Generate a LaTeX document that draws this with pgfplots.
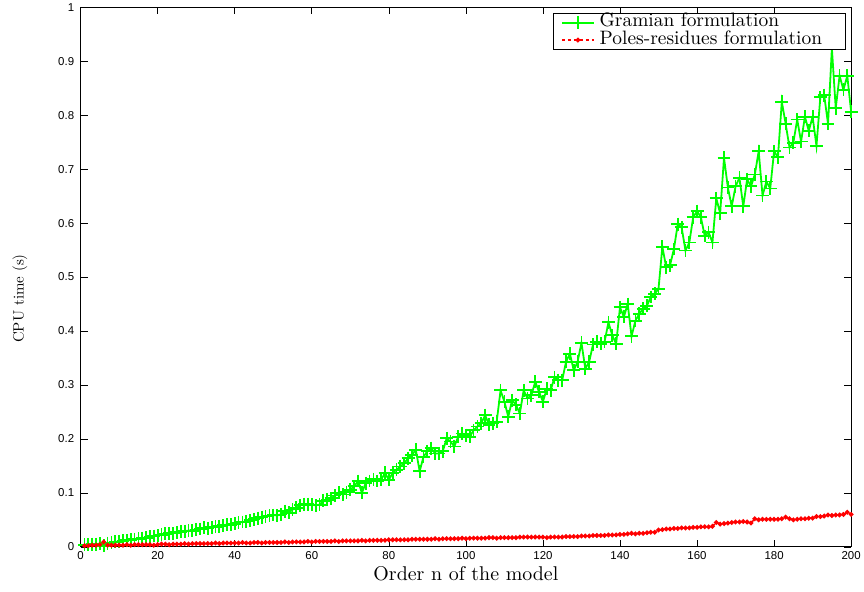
\documentclass[border=0pt]{standalone}
\usepackage{fontspec}
\setmainfont{lmroman10-regular.otf}
\usepackage{pgfplots}
\pgfplotsset{compat=1.18}
\newfontfamily\ticksans{Liberation Sans}

\definecolor{gramgreen}{RGB}{0,255,0}
\definecolor{polered}{RGB}{255,0,0}

\pgfplotstableread{
n t
1 0.004
2 0.004
3 0.005
4 0.005
5 0.006
6 0.002
7 0.007
8 0.008
9 0.009
10 0.010
11 0.011
12 0.012
13 0.013
14 0.014
15 0.015
16 0.016
17 0.017
18 0.019
19 0.020
20 0.021
21 0.022
22 0.024
23 0.025
24 0.025
25 0.027
26 0.028
27 0.029
28 0.030
29 0.030
30 0.032
31 0.033
32 0.035
33 0.034
34 0.036
35 0.037
36 0.038
37 0.040
38 0.041
39 0.041
40 0.043
41 0.045
42 0.046
43 0.047
44 0.049
45 0.051
46 0.053
47 0.055
48 0.056
49 0.058
50 0.059
51 0.058
52 0.060
53 0.066
54 0.063
55 0.069
56 0.072
57 0.077
58 0.079
59 0.079
60 0.078
61 0.077
62 0.078
63 0.085
64 0.087
65 0.090
66 0.095
67 0.100
68 0.097
69 0.101
70 0.106
71 0.112
72 0.122
73 0.100
74 0.118
75 0.122
76 0.125
77 0.122
78 0.124
79 0.137
80 0.124
81 0.137
82 0.143
83 0.149
84 0.155
85 0.164
86 0.170
87 0.180
88 0.140
89 0.167
90 0.177
91 0.183
92 0.173
93 0.173
94 0.177
95 0.201
96 0.195
97 0.186
98 0.204
99 0.210
100 0.207
101 0.204
102 0.216
103 0.223
104 0.229
105 0.244
106 0.226
107 0.229
108 0.232
109 0.290
110 0.269
111 0.241
112 0.272
113 0.263
114 0.247
115 0.290
116 0.275
117 0.281
118 0.306
119 0.287
120 0.269
121 0.293
122 0.290
123 0.314
124 0.309
125 0.309
126 0.343
127 0.358
128 0.327
129 0.343
130 0.378
131 0.330
132 0.343
133 0.375
134 0.380
135 0.376
136 0.380
137 0.416
138 0.392
139 0.376
140 0.444
141 0.426
142 0.450
143 0.390
144 0.419
145 0.432
146 0.441
147 0.447
148 0.463
149 0.469
150 0.478
151 0.556
152 0.518
153 0.522
154 0.552
155 0.598
156 0.592
157 0.549
158 0.564
159 0.611
160 0.622
161 0.611
162 0.576
163 0.583
164 0.564
165 0.646
166 0.618
167 0.721
168 0.666
169 0.631
170 0.668
171 0.684
172 0.631
173 0.681
174 0.668
175 0.690
176 0.733
177 0.651
178 0.677
179 0.664
180 0.733
181 0.722
182 0.825
183 0.784
184 0.740
185 0.749
186 0.792
187 0.751
188 0.797
189 0.771
190 0.797
191 0.743
192 0.833
193 0.837
194 0.784
195 0.924
196 0.813
197 0.873
198 0.847
199 0.873
200 0.806
}\gramian

\pgfplotstableread{
n t
1 0.002
2 0.002
3 0.003
4 0.003
5 0.004
6 0.009
7 0.003
8 0.003
9 0.003
10 0.003
11 0.003
12 0.004
13 0.003
14 0.004
15 0.004
16 0.004
17 0.004
18 0.004
19 0.003
20 0.004
21 0.005
22 0.005
23 0.004
24 0.005
25 0.005
26 0.005
27 0.006
28 0.005
29 0.006
30 0.006
31 0.006
32 0.006
33 0.006
34 0.006
35 0.007
36 0.006
37 0.007
38 0.007
39 0.007
40 0.007
41 0.007
42 0.008
43 0.007
44 0.007
45 0.008
46 0.008
47 0.007
48 0.008
49 0.008
50 0.008
51 0.008
52 0.008
53 0.009
54 0.008
55 0.009
56 0.009
57 0.009
58 0.009
59 0.010
60 0.009
61 0.010
62 0.010
63 0.010
64 0.010
65 0.010
66 0.011
67 0.010
68 0.011
69 0.011
70 0.011
71 0.011
72 0.011
73 0.012
74 0.011
75 0.012
76 0.012
77 0.012
78 0.012
79 0.012
80 0.013
81 0.013
82 0.013
83 0.013
84 0.013
85 0.013
86 0.014
87 0.014
88 0.014
89 0.014
90 0.014
91 0.014
92 0.015
93 0.014
94 0.015
95 0.015
96 0.015
97 0.015
98 0.015
99 0.016
100 0.015
101 0.016
102 0.016
103 0.016
104 0.016
105 0.016
106 0.017
107 0.017
108 0.016
109 0.017
110 0.017
111 0.017
112 0.017
113 0.017
114 0.018
115 0.018
116 0.018
117 0.018
118 0.018
119 0.018
120 0.018
121 0.017
122 0.018
123 0.018
124 0.018
125 0.018
126 0.019
127 0.019
128 0.019
129 0.019
130 0.020
131 0.020
132 0.020
133 0.021
134 0.021
135 0.021
136 0.021
137 0.022
138 0.022
139 0.022
140 0.023
141 0.023
142 0.024
143 0.025
144 0.024
145 0.025
146 0.025
147 0.026
148 0.027
149 0.027
150 0.031
151 0.032
152 0.033
153 0.033
154 0.034
155 0.034
156 0.035
157 0.035
158 0.035
159 0.036
160 0.036
161 0.037
162 0.037
163 0.037
164 0.038
165 0.045
166 0.042
167 0.043
168 0.044
169 0.045
170 0.046
171 0.046
172 0.047
173 0.046
174 0.044
175 0.052
176 0.050
177 0.051
178 0.051
179 0.051
180 0.051
181 0.051
182 0.052
183 0.055
184 0.052
185 0.050
186 0.051
187 0.052
188 0.052
189 0.053
190 0.053
191 0.056
192 0.056
193 0.057
194 0.059
195 0.058
196 0.059
197 0.059
198 0.060
199 0.064
200 0.060
}\polesres

\begin{document}
\begin{tikzpicture}
\begin{axis}[
  scale only axis,
  width=774pt, height=542pt,
  xmin=0, xmax=200, ymin=0, ymax=1,
  xtick={0,20,...,200},
  xticklabels={0,20,40,60,80,100,120,140,160,180,200},
  ytick={0,0.1,...,1},
  yticklabels={0,0.1,0.2,0.3,0.4,0.5,0.6,0.7,0.8,0.9,1},
  /pgf/number format/assume math mode=true,
  ticklabel style={font=\ticksans\fontsize{11.5}{12}\selectfont},
  xticklabel style={yshift=-1pt},
  yticklabel style={xshift=-3pt},
  major tick length=7pt,
  tick style={black, line width=0.6pt},
  axis line style={line width=0.8pt},
  xlabel={Order n of the model},
  ylabel={CPU time (s)},
  xlabel style={font=\fontsize{20}{20}\selectfont, at={(axis description cs:0.5,0)}, anchor=base, yshift=-34pt},
  ylabel style={font=\fontsize{15}{15}\selectfont, at={(axis description cs:-0.0788,0.46)}, anchor=center},
  legend cell align=left,
  legend image code/.code={%
    \draw[mark repeat=2,mark phase=2,#1] plot coordinates {(0pt,0pt) (16pt,0pt) (32pt,0pt)};},
  legend style={
    at={(1,1)}, anchor=north east, xshift=-6pt, yshift=-6pt,
    draw=black, inner xsep=8pt, inner ysep=0.5pt,
    font=\fontsize{19.5}{18}\selectfont,
    row sep=0pt, column sep=5pt,
    nodes={inner sep=0pt, text height=13pt, text depth=4.5pt},
  },
]

% Gramian-based reduction
\addplot[color=gramgreen, line width=1.8pt, mark=+, mark size=6.5pt,
         mark options={solid, line width=1.8pt}]
  table[x=n, y=t] {\gramian};
\addlegendentry{Gramian formulation\hspace*{15pt}}

% Poles-residues reduction
\addplot[color=polered, line width=1.5pt, dashed, mark=*, mark size=1.6pt,
         mark options={solid, fill=polered}]
  table[x=n, y=t] {\polesres};
\addlegendentry{Poles-residues formulation\hspace*{15pt}}

\end{axis}
% page extent around the axis box
\path (-81pt,-45pt) rectangle (783pt,549pt);
\end{tikzpicture}
\end{document}
